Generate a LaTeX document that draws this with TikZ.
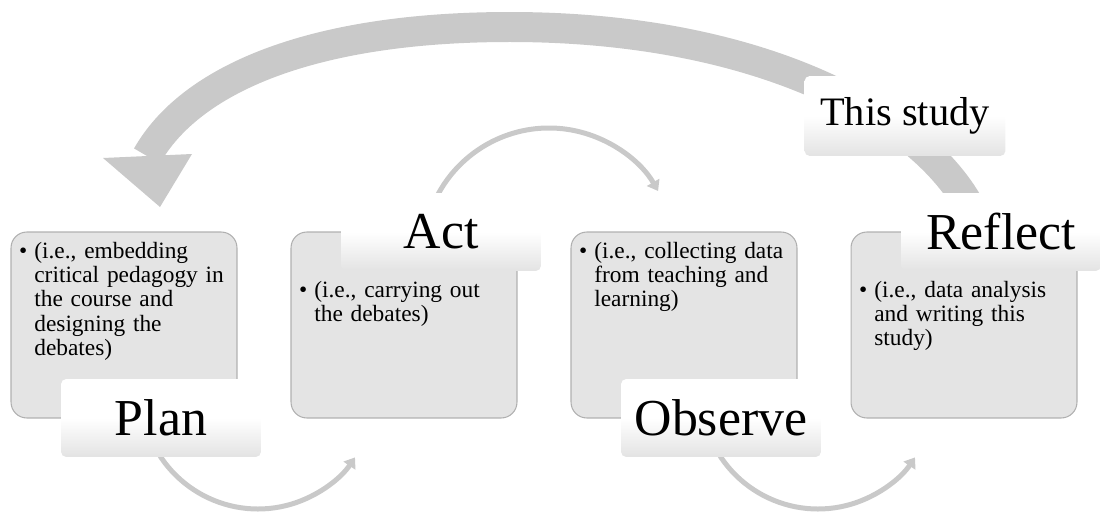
\documentclass[tikz,border=0pt]{standalone}
\usepackage{fontspec}
\setmainfont{Liberation Serif}
\usetikzlibrary{positioning,arrows.meta}
\definecolor{boxgray}{HTML}{E4E4E4}
\definecolor{edgegray}{HTML}{B0B0B0}
\definecolor{arrowgray}{HTML}{C9C9C9}
\tikzset{
  stagebox/.style={draw=edgegray,fill=boxgray,line width=0.6pt,rounded corners=9pt,
    minimum width=4.52cm,minimum height=3.72cm},
  stagelabel/.style={top color=white,bottom color=black!11,middle color=white,
    rounded corners=3pt,inner sep=0pt,minimum width=4cm,minimum height=1.56cm,
    font=\fontsize{29.5}{30}\selectfont},
  stagetext/.style={anchor=base west,text width=4cm,align=left,inner sep=0pt,
    font=\fontsize{13.3}{13.9}\selectfont},
  cyclearrow/.style={draw=arrowgray,line width=0.1cm,-{Triangle[length=0.2cm,width=0.28cm]}}
}
\newcommand{\stagebullet}{\llap{\textbullet\hspace{4pt}}}

\begin{document}
\begin{tikzpicture}[x=0.02cm,y=0.02cm]
  \useasboundingbox (0,0) rectangle (1100,515);
  % the four stages
  \node[stagebox] (planbox) at (124,190) {};
  \node[stagebox] (actbox) at (404,190) {};
  \node[stagebox] (observebox) at (684,190) {};
  \node[stagebox] (reflectbox) at (964,190) {};

  \node[stagetext] (plantext) at (34,257) {\stagebullet(i.e., embedding\\ critical pedagogy in\\ the course and\\ designing the\\ debates)};
  \node[stagetext] (acttext) at (314,218) {\stagebullet(i.e., carrying out\\ the debates)};
  \node[stagetext] (observetext) at (594,257) {\stagebullet(i.e., collecting data\\ from teaching and\\ learning)};
  \node[stagetext] (reflecttext) at (874,218) {\stagebullet(i.e., data analysis\\ and writing this\\ study)};

  % big loop back from reflect to plan
  \coordinate (looptail) at (974,300);
  \coordinate (looptop) at (510,488);
  \coordinate (loopend) at (147,359);
  \draw[arrowgray,line width=0.6cm] (looptail) .. controls (929,395) and (765,488) .. (looptop)
    .. controls (310,488) and (190,435) .. (loopend);
  \fill[arrowgray] (103,357) -- (192,361) -- (160,308) -- cycle;

  % small turns between stages
  \coordinate (planturn) at (258,123);
  \coordinate (actturn) at (549,261);
  \coordinate (observeturn) at (818,123);
  \draw[cyclearrow] ([shift={(200:2.34cm)}]planturn) arc[start angle=200,end angle=326,radius=2.34cm];
  \draw[cyclearrow] ([shift={(165:2.52cm)}]actturn) arc[start angle=165,end angle=30,radius=2.52cm];
  \draw[cyclearrow] ([shift={(200:2.34cm)}]observeturn) arc[start angle=200,end angle=326,radius=2.34cm];

  \node[stagelabel] (plan) at (161,97) {Plan};
  \node[stagelabel] (act) at (441,283) {Act};
  \node[stagelabel] (observe) at (721,97) {Observe};
  \node[stagelabel] (reflect) at (1001,283) {Reflect};
  \node[stagelabel,minimum width=4.02cm,minimum height=1.6cm,
    font=\fontsize{23}{24}\selectfont] (study) at (905,399) {This study};
\end{tikzpicture}
\end{document}
